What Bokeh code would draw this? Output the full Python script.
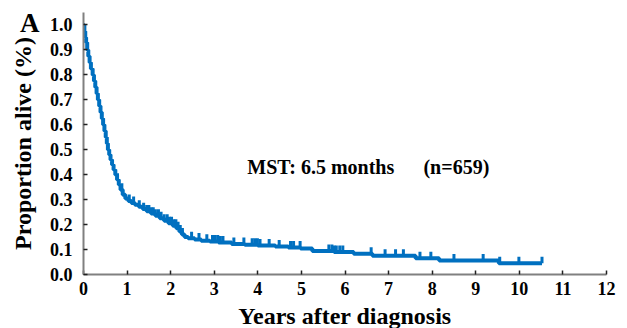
import numpy as np
from bokeh.plotting import figure
from bokeh.models import Label, FixedTicker, PrintfTickFormatter, ColumnDataSource, Div
from bokeh.embed import file_html
from bokeh.resources import INLINE

# Kaplan-Meier survival estimate (years, proportion alive)
km_time = [0.00, 0.02, 0.04, 0.06, 0.085, 0.11, 0.14, 0.17, 0.21, 0.24, 0.27, 0.30,
           0.33, 0.36, 0.39, 0.42, 0.45, 0.48, 0.51, 0.535, 0.56, 0.59, 0.62, 0.655,
           0.69, 0.73, 0.77, 0.81, 0.85, 0.90, 0.96, 1.03, 1.10, 1.18, 1.27, 1.36,
           1.45, 1.55, 1.65, 1.75, 1.85, 1.95, 2.05, 2.13, 2.20, 2.26, 2.32, 2.40,
           2.55, 2.70, 2.90, 3.10, 3.40, 3.70, 4.00, 4.40, 4.70, 4.98, 5.25, 5.75,
           6.20, 6.63, 7.62, 8.16, 9.53, 10.52]
km_surv = [1.000, 0.975, 0.950, 0.930, 0.900, 0.875, 0.850, 0.825, 0.800, 0.775, 0.750, 0.725,
           0.700, 0.675, 0.650, 0.625, 0.600, 0.575, 0.550, 0.525, 0.500, 0.480, 0.460, 0.440,
           0.420, 0.400, 0.380, 0.360, 0.340, 0.320, 0.305, 0.295, 0.287, 0.280, 0.272, 0.262,
           0.253, 0.244, 0.235, 0.225, 0.215, 0.205, 0.195, 0.185, 0.172, 0.160, 0.150, 0.145,
           0.140, 0.135, 0.132, 0.128, 0.122, 0.119, 0.116, 0.112, 0.108, 0.104, 0.094, 0.090,
           0.083, 0.075, 0.065, 0.056, 0.045, 0.045]

# Censored observations (years)
censor_time = [0.78, 0.88, 1.05, 1.15, 1.28, 1.38, 1.45, 1.50, 1.55, 1.60, 1.65, 1.72,
               1.78, 1.85, 1.92, 1.97, 2.02, 2.07, 2.12, 2.17, 2.22, 2.27, 2.48, 2.65,
               2.83, 2.96, 3.02, 3.08, 3.14, 3.20, 3.45, 3.68, 3.87, 3.93, 3.99, 4.05,
               4.26, 4.49, 4.75, 4.82, 4.97, 5.63, 5.70, 5.75, 5.80, 5.88, 5.95, 6.60,
               6.92, 7.16, 7.34, 7.72, 7.97, 8.50, 9.17, 9.55, 9.99, 10.52]

x_ticks = list(range(0, 13))
y_ticks = [0.0, 0.1, 0.2, 0.3, 0.4, 0.5, 0.6, 0.7, 0.8, 0.9, 1.0]

BLUE = "#0070C0"
FONT = "Liberation Serif"

p = figure(frame_width=523, frame_height=262, x_range=(0, 12), y_range=(0, 1.05),
           output_backend="svg", toolbar_location=None,
           min_border_left=83, min_border_top=12, min_border_right=15, min_border_bottom=54)
p.grid.visible = False
p.outline_line_color = None
p.background_fill_color = "white"
p.border_fill_color = "white"

p.step(km_time, km_surv, mode="after", line_color=BLUE, line_width=4)

kt = np.array(km_time)
ks = np.array(km_surv)
ct = np.array(censor_time)
idx = np.searchsorted(kt, ct, side="right") - 1
cs = ks[np.clip(idx, 0, len(ks) - 1)]
src = ColumnDataSource(dict(x=ct, y0=cs, y1=cs + 0.026))
p.segment(x0="x", y0="y0", x1="x", y1="y1", source=src, line_color=BLUE, line_width=3)

for ax in (p.xaxis[0], p.yaxis[0]):
    ax.axis_line_color = "#808080"
    ax.axis_line_width = 2
    ax.major_tick_line_color = "#202020"
    ax.major_tick_line_width = 1.5
    ax.major_tick_in = 4
    ax.major_tick_out = 0
    ax.minor_tick_line_color = None
    ax.major_label_text_font = FONT
    ax.major_label_text_font_style = "bold"
    ax.major_label_text_font_size = "18px"
    ax.major_label_text_color = "black"
    ax.axis_label_text_font = FONT
    ax.axis_label_text_font_style = "bold"
    ax.axis_label_text_font_size = "24px"
    ax.axis_label_text_color = "black"

p.xaxis.ticker = FixedTicker(ticks=x_ticks)
p.yaxis.ticker = FixedTicker(ticks=y_ticks)
p.yaxis.formatter = PrintfTickFormatter(format="%.1f")
p.xaxis.major_label_standoff = 7
p.yaxis.major_label_standoff = 11
p.xaxis.axis_label = "Years after diagnosis"
p.yaxis.axis_label = "Proportion alive (%)"
p.xaxis.axis_label_standoff = 5
p.yaxis.axis_label_standoff = 11

p.add_layout(Label(x=3.76, y=0.431, text="MST: 6.5 months", text_font=FONT,
                   text_font_style="bold", text_font_size="20px", text_color="black",
                   text_baseline="alphabetic"))
p.add_layout(Label(x=7.8, y=0.431, text="(n=659)", text_font=FONT,
                   text_font_style="bold", text_font_size="20px", text_color="black",
                   text_baseline="alphabetic"))

panel = Div(text=("<span style=\"font-family:'Liberation Serif';font-weight:bold;"
                  "font-size:27px;line-height:27px;color:black\">A</span>"),
            width=24, height=27,
            styles={"position": "absolute", "left": "20px", "top": "10px",
                    "margin": "0", "padding": "0", "z-index": "10"})

open("out.html", "w").write(file_html([p, panel], INLINE))
